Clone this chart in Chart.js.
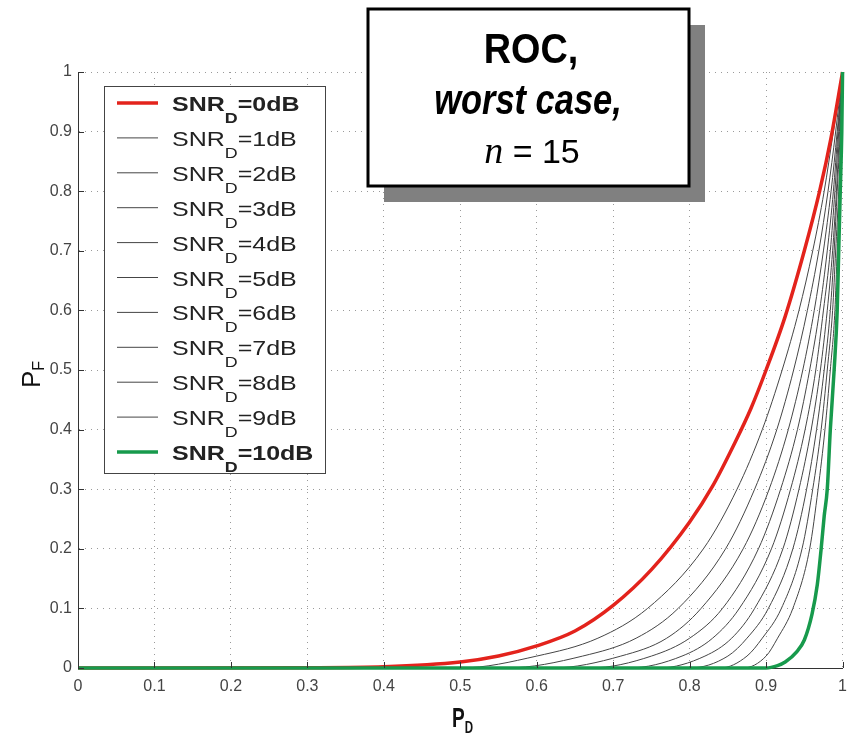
<!DOCTYPE html>
<html>
<head>
<meta charset="utf-8">
<script src="https://cdn.jsdelivr.net/npm/chart.js@4.4.1/dist/chart.umd.min.js"></script>
<style>
html, body { margin: 0; padding: 0; background: #fff; }
#wrap { width: 856px; height: 738px; }
</style>
</head>
<body>
<div id="wrap"><canvas id="graficoRoc" width="856" height="738"></canvas></div>
<script>
// SNR levels of the curves (dB)
const snrLevels = [0, 1, 2, 3, 4, 5, 6, 7, 8, 9, 10];
const xTicks = [0, 0.1, 0.2, 0.3, 0.4, 0.5, 0.6, 0.7, 0.8, 0.9, 1];

// 0 dB curve (red)
const pd_0dB = [0, 0.3, 0.4, 0.5, 0.55, 0.6, 0.65, 0.7, 0.75, 0.8, 0.83, 0.86, 0.88, 0.90, 0.925, 0.95, 0.97, 0.985, 1];
const pf_0dB = [0, 0.0005, 0.002, 0.01, 0.02, 0.037, 0.062, 0.105, 0.165, 0.245, 0.305, 0.38, 0.435, 0.50, 0.59, 0.70, 0.80, 0.89, 1];

// 10 dB curve (green)
const pd_10dB = [0, 0.90, 0.915, 0.925, 0.94, 0.95, 0.96, 0.967, 0.972, 0.976, 0.98, 0.984, 0.989, 0.993, 0.995, 0.997, 0.999, 1];
const pf_10dB = [0, 0, 0.004, 0.01, 0.027, 0.047, 0.09, 0.14, 0.2, 0.255, 0.30, 0.4, 0.5, 0.6, 0.7, 0.8, 0.9, 1];

// 1..9 dB curves (grey), read at the same P_F levels
const pf_mid = [0, 0, 0.02, 0.05, 0.1, 0.2, 0.3, 0.4, 0.5, 0.6, 0.7, 0.8, 0.9, 1];
const pd_1dB = [0, 0.50, 0.60, 0.68, 0.745, 0.818, 0.862, 0.895, 0.921, 0.943, 0.961, 0.976, 0.988, 1];
const pd_2dB = [0, 0.56, 0.66, 0.73, 0.785, 0.847, 0.885, 0.914, 0.936, 0.954, 0.969, 0.981, 0.991, 1];
const pd_3dB = [0, 0.62, 0.71, 0.77, 0.815, 0.870, 0.904, 0.929, 0.948, 0.963, 0.975, 0.985, 0.993, 1];
const pd_4dB = [0, 0.67, 0.75, 0.80, 0.843, 0.890, 0.919, 0.941, 0.957, 0.970, 0.980, 0.988, 0.994, 1];
const pd_5dB = [0, 0.72, 0.79, 0.83, 0.865, 0.907, 0.932, 0.951, 0.965, 0.975, 0.984, 0.990, 0.995, 1];
const pd_6dB = [0, 0.76, 0.82, 0.855, 0.885, 0.922, 0.943, 0.959, 0.971, 0.980, 0.987, 0.992, 0.996, 1];
const pd_7dB = [0, 0.80, 0.85, 0.875, 0.903, 0.935, 0.953, 0.966, 0.976, 0.984, 0.989, 0.993, 0.997, 1];
const pd_8dB = [0, 0.84, 0.875, 0.895, 0.920, 0.947, 0.961, 0.972, 0.980, 0.987, 0.991, 0.995, 0.998, 1];
const pd_9dB = [0, 0.87, 0.90, 0.915, 0.935, 0.957, 0.968, 0.977, 0.984, 0.990, 0.993, 0.996, 0.998, 1];

const grigi = [pd_1dB, pd_2dB, pd_3dB, pd_4dB, pd_5dB, pd_6dB, pd_7dB, pd_8dB, pd_9dB];

const SANS = "'Liberation Sans', Arial, sans-serif";
const SERIF = "'Liberation Serif', 'Times New Roman', serif";

function punti(xs, ys) {
    return xs.map((x, i) => ({ x: x, y: ys[i] }));
}

function formatTick(v) {
    const r = Math.round(v * 10) / 10;
    return (r === 0 || r === 1) ? String(r) : r.toFixed(1);
}

let datasets = [];
datasets.push({
    label: 'SNRD=' + snrLevels[10] + 'dB', snr: snrLevels[10], bold: true,
    data: punti(pd_10dB, pf_10dB), borderColor: '#179a4c', borderWidth: 3.5, order: 0
});
datasets.push({
    label: 'SNRD=' + snrLevels[0] + 'dB', snr: snrLevels[0], bold: true,
    data: punti(pd_0dB, pf_0dB), borderColor: '#e3231c', borderWidth: 3.5, order: 1
});
for (var i = 0; i < grigi.length; i++) {
    datasets.push({
        label: 'SNRD=' + snrLevels[i + 1] + 'dB', snr: snrLevels[i + 1], bold: false,
        data: punti(grigi[i], pf_mid), borderColor: '#454545', borderWidth: 1, order: 2
    });
}

// text with subscript, stretched horizontally by sx
function testoSub(ctx, x, y, parts, sx) {
    ctx.save();
    ctx.translate(x, y);
    ctx.scale(sx, 1);
    let cx = 0;
    parts.forEach(p => {
        ctx.font = p.font;
        ctx.fillText(p.t, cx, p.dy || 0);
        cx += ctx.measureText(p.t).width;
    });
    ctx.restore();
}

const decorazioni = {
    id: 'decorazioni',
    afterDatasetsDraw(chart) {
        const ctx = chart.ctx;
        const xs = chart.scales.x, ys = chart.scales.y;
        const a = chart.chartArea;
        // inward tick marks
        ctx.save();
        ctx.strokeStyle = '#333';
        ctx.lineWidth = 1;
        ctx.beginPath();
        xs.ticks.forEach(t => {
            const px = Math.round(xs.getPixelForValue(t.value)) + 0.5;
            ctx.moveTo(px, a.bottom); ctx.lineTo(px, a.bottom - 6);
        });
        ys.ticks.forEach(t => {
            const py = Math.round(ys.getPixelForValue(t.value)) + 0.5;
            ctx.moveTo(a.left, py); ctx.lineTo(a.left + 6, py);
        });
        ctx.stroke();
        ctx.restore();
    },
    afterDraw(chart) {
        const ctx = chart.ctx;
        ctx.save();

        // legend
        const lx = 104, ly = 86, lw = 221, lh = 387;
        ctx.fillStyle = '#fff';
        ctx.fillRect(lx, ly, lw, lh);
        ctx.strokeStyle = '#444';
        ctx.lineWidth = 1;
        ctx.strokeRect(lx + 0.5, ly + 0.5, lw, lh);
        const righe = chart.data.datasets.slice().sort((p, q) => p.snr - q.snr);
        righe.forEach((ds, k) => {
            const cy = 103 + k * 34.9;
            ctx.strokeStyle = ds.borderColor;
            ctx.lineWidth = ds.borderWidth;
            ctx.beginPath();
            ctx.moveTo(117, cy); ctx.lineTo(158, cy);
            ctx.stroke();
            const w = ds.bold ? 'bold ' : '';
            ctx.fillStyle = '#222';
            ctx.textAlign = 'left';
            ctx.textBaseline = 'alphabetic';
            testoSub(ctx, 172, cy + 8, [
                { t: 'SNR', font: w + '21px ' + SANS },
                { t: 'D', font: w + '15px ' + SANS, dy: 12 },
                { t: '=' + ds.snr + 'dB', font: w + '21px ' + SANS }
            ], 1.19);
        });

        // title box
        ctx.fillStyle = '#808080';
        ctx.fillRect(384, 25, 321, 177);
        ctx.fillStyle = '#fff';
        ctx.fillRect(368, 9, 321, 177);
        ctx.strokeStyle = '#000';
        ctx.lineWidth = 3;
        ctx.strokeRect(368, 9, 321, 177);
        ctx.fillStyle = '#000';
        ctx.textAlign = 'left';
        const riga = (txt, font, sx, cx, by) => {
            ctx.font = font;
            const wd = ctx.measureText(txt).width * sx;
            testoSub(ctx, cx - wd / 2, by, [{ t: txt, font: font }], sx);
        };
        riga('ROC,', 'bold 42px ' + SANS, 0.9, 531, 63);
        riga('worst case,', 'italic bold 42px ' + SANS, 0.82, 528, 114);
        ctx.font = 'italic 38px ' + SERIF;
        const wn = ctx.measureText('n').width;
        ctx.font = '34px ' + SANS;
        const wr = ctx.measureText(' = 15').width;
        const x0 = 532 - (wn + wr) / 2;
        testoSub(ctx, x0, 163, [
            { t: 'n', font: 'italic 38px ' + SERIF },
            { t: ' = 15', font: '34px ' + SANS }
        ], 1);

        // x axis title
        ctx.fillStyle = '#111';
        testoSub(ctx, 452, 727, [
            { t: 'P', font: 'bold 28px ' + SANS },
            { t: 'D', font: 'bold 17px ' + SANS, dy: 6 }
        ], 0.68);

        // y axis title (rotated)
        ctx.translate(40, 388);
        ctx.rotate(-Math.PI / 2);
        testoSub(ctx, 0, 0, [
            { t: 'P', font: '26px ' + SANS },
            { t: 'F', font: '16px ' + SANS, dy: 4 }
        ], 1);
        ctx.restore();
    }
};

const ctx = document.getElementById('graficoRoc');
const myChart = new Chart(ctx, {
    type: 'scatter',
    data: { datasets: datasets },
    options: {
        responsive: false,
        animation: false,
        devicePixelRatio: 1,
        layout: { padding: { top: 72, right: 4, left: 0, bottom: 0 } },
        elements: {
            point: { radius: 0, hoverRadius: 0 },
            line: { fill: false }
        },
        datasets: {
            scatter: { showLine: true, cubicInterpolationMode: 'monotone', clip: 5 }
        },
        plugins: {
            legend: { display: false },
            tooltip: { enabled: false },
            title: { display: false }
        },
        scales: {
            x: {
                type: 'linear', min: 0, max: 1,
                afterFit: function (s) { s.height = 70; },
                afterBuildTicks: function (s) { s.ticks = xTicks.map(v => ({ value: v })); },
                ticks: {
                    color: '#444', padding: 9, maxRotation: 0, autoSkip: false,
                    font: { family: SANS, size: 16 },
                    callback: formatTick
                },
                grid: { color: '#9a9a9a', lineWidth: 1, drawTicks: false },
                border: { color: '#333', width: 1, dash: [1, 5] }
            },
            y: {
                type: 'linear', min: 0, max: 1,
                afterFit: function (s) { s.width = 78; },
                afterBuildTicks: function (s) { s.ticks = xTicks.map(v => ({ value: v })); },
                ticks: {
                    color: '#444', padding: 6, autoSkip: false,
                    font: { family: SANS, size: 16 },
                    callback: formatTick
                },
                grid: { color: '#9a9a9a', lineWidth: 1, drawTicks: false },
                border: { color: '#333', width: 1, dash: [1, 5] }
            }
        }
    },
    plugins: [decorazioni]
});
</script>
</body>
</html>
